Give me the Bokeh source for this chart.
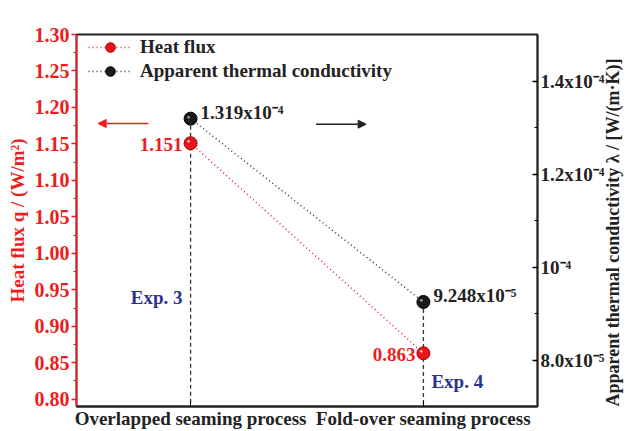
import math
from bokeh.plotting import figure
from bokeh.models import (Range1d, LinearAxis, FixedTicker, CustomJSTickFormatter,
                          ColumnDataSource, Label, Arrow, NormalHead, Legend, LegendItem)
from bokeh.core.properties import value
from bokeh.embed import file_html
from bokeh.resources import INLINE

# ---- data ----
categories = ["Overlapped seaming process", "Fold-over seaming process"]
experiments = ["Exp. 3", "Exp. 4"]
heat_flux = [1.151, 0.863]                 # W/m^2 (left axis)
conductivity = [1.319e-4, 9.248e-5]        # W/(m.K) (right axis)
left_ticks = [0.80, 0.85, 0.90, 0.95, 1.00, 1.05, 1.10, 1.15, 1.20, 1.25, 1.30]
left_minor = [0.825, 0.875, 0.925, 0.975, 1.025, 1.075, 1.125, 1.175, 1.225, 1.275]
right_ticks = [8.0e-5, 1.0e-4, 1.2e-4, 1.4e-4]
right_tick_labels = ["8.0x10⁻⁵", "10⁻⁴", "1.2x10⁻⁴", "1.4x10⁻⁴"]
right_minor = [9.0e-5, 1.1e-4, 1.3e-4]
left_title = "Heat flux q / (W/m²)"
right_title = "Apparent thermal conductivity λ / [W/(m·K)]"

RED = "#f01c1c"
BLUE = "#2b3190"
DARK = "#222222"
FONT = "Liberation Serif"
FS = "19px"

SUP = str.maketrans("-0123456789", "⁻⁰¹²³⁴⁵⁶⁷⁸⁹")

def sci(v):
    e = int(math.floor(math.log10(v)))
    m = v / 10 ** e
    return f"{m:.3f}x10" + str(e).translate(SUP)

xs = list(range(len(categories)))
Y0, Y1 = 0.79, 1.30
K0, K1 = 7.0e-5, 1.5e-4
X0, X1 = -0.49, 1.49

p = figure(width=639, height=431, output_backend="svg", toolbar_location=None,
           x_range=Range1d(X0, X1), y_range=Range1d(Y0, Y1),
           min_border_left=76, min_border_right=102, min_border_top=34, min_border_bottom=24)
p.extra_y_ranges = {"k": Range1d(K0, K1)}
p.grid.visible = False
p.outline_line_color = DARK
p.outline_line_width = 1.8
p.background_fill_color = "white"
p.border_fill_color = "white"

# x axis
xa = p.xaxis[0]
xa.ticker = FixedTicker(ticks=xs)
xa.major_label_overrides = {i: c for i, c in enumerate(categories)}
xa.major_label_text_font = FONT
xa.major_label_text_font_style = "bold"
xa.major_label_text_font_size = FS
xa.major_label_text_color = DARK
xa.major_tick_in = 5
xa.major_tick_out = 0
xa.minor_tick_line_color = None
xa.axis_line_color = DARK
xa.axis_line_width = 1.8
xa.major_label_standoff = 1

# left axis
ya = p.yaxis[0]
ya.ticker = FixedTicker(ticks=left_ticks, minor_ticks=left_minor)
ya.formatter = CustomJSTickFormatter(code="return tick.toFixed(2);")
ya.axis_label = left_title
ya.axis_label_text_font = FONT
ya.axis_label_text_font_style = "bold"
ya.axis_label_text_font_size = "19px"
ya.axis_label_text_color = RED
ya.axis_label_standoff = 4
ya.major_label_text_font = FONT
ya.major_label_text_font_style = "bold"
ya.major_label_text_font_size = "20px"
ya.major_label_text_color = RED
ya.axis_line_color = RED
ya.axis_line_width = 1.8
ya.major_tick_line_color = RED
ya.minor_tick_line_color = RED
ya.major_tick_line_width = 1.5
ya.major_tick_in = 0
ya.major_tick_out = 5
ya.minor_tick_in = 0
ya.minor_tick_out = 3
ya.major_label_standoff = 2

# right axis
ra = LinearAxis(y_range_name="k",
                ticker=FixedTicker(ticks=right_ticks, minor_ticks=right_minor),
                formatter=CustomJSTickFormatter(args=dict(t=right_ticks, lab=right_tick_labels),
                                                code="""
for (let i = 0; i < t.length; i++) { if (Math.abs(tick - t[i]) < 1e-9) return lab[i]; }
return '';"""))
ra.axis_label = right_title
ra.axis_label_text_font = FONT
ra.axis_label_text_font_style = "bold"
ra.axis_label_text_font_size = "18px"
ra.axis_label_text_color = DARK
ra.axis_label_standoff = 6
props = ra.properties()
if "axis_label_orientation" in props:
    ra.axis_label_orientation = math.pi / 2
if "axis_label_align" in props:
    for cand in ("start", "left", "bottom"):
        try:
            ra.axis_label_align = cand
            break
        except ValueError:
            pass
ra.major_label_text_font = FONT
ra.major_label_text_font_style = "bold"
ra.major_label_text_font_size = FS
ra.major_label_text_color = DARK
ra.axis_line_color = DARK
ra.axis_line_width = 1.8
ra.major_tick_line_width = 1.5
ra.major_tick_in = 5
ra.major_tick_out = 0
ra.minor_tick_in = 3
ra.minor_tick_out = 0
ra.major_label_standoff = 3
p.add_layout(ra, "right")

src = ColumnDataSource(dict(
    x=xs, q=heat_flux, k=conductivity,
    qlab=[f"{v:.3f}" for v in heat_flux],
    klab=[sci(v) for v in conductivity],
    kbottom=[K0] * len(xs),
))

# dashed drop lines from the conductivity points to the axis
p.segment(x0="x", y0="k", x1="x", y1="kbottom", source=src, y_range_name="k",
          line_color="#333333", line_dash="4 3", line_width=1.3)

# dotted connecting lines + markers
r_ql = p.line("x", "q", source=src, line_color=RED, line_dash="1 3", line_width=1.5)
r_qm = p.scatter("x", "q", source=src, size=13, fill_color="#e8141c", line_color="#b00000")
r_kl = p.line("x", "k", source=src, y_range_name="k", line_color="#333333", line_dash="1 3", line_width=1.5)
r_km = p.scatter("x", "k", source=src, y_range_name="k", size=13, fill_color="#1a1a1a", line_color="#000000")

# sphere highlights
p.text("x", "q", text=value("●"), source=src, text_color="white", text_alpha=0.75,
       text_font_size="6px", text_align="center", text_baseline="middle", x_offset=-2, y_offset=-2)
p.text("x", "k", text=value("●"), source=src, y_range_name="k", text_color="#cccccc", text_alpha=0.8,
       text_font_size="6px", text_align="center", text_baseline="middle", x_offset=-2, y_offset=-2)

# value labels
p.text("x", "q", text="qlab", source=src, text_color=RED, text_font=value(FONT), text_font_style="bold",
       text_font_size=FS, text_align="right", text_baseline="middle", x_offset=-8, y_offset=1)
p.text("x", "k", text="klab", source=src, y_range_name="k", text_color=DARK, text_font=value(FONT),
       text_font_style="bold", text_font_size=FS, text_align="left", text_baseline="middle",
       x_offset=10, y_offset=-6)

# experiment labels
p.add_layout(Label(x=0, y=0.940, text=experiments[0], x_offset=-8, text_align="right", text_baseline="middle",
                   text_color=BLUE, text_font=FONT, text_font_style="bold", text_font_size=FS))
p.add_layout(Label(x=1, y=0.824, text=experiments[1], x_offset=8, text_align="left", text_baseline="middle",
                   text_color=BLUE, text_font=FONT, text_font_style="bold", text_font_size=FS))

# direction arrows
p.add_layout(Arrow(x_start=-0.181, y_start=1.178, x_end=-0.397, y_end=1.178, line_color=RED, line_width=1.5,
                   end=NormalHead(size=8, fill_color=RED, line_color=RED)))
p.add_layout(Arrow(x_start=0.539, y_start=1.177, x_end=0.754, y_end=1.177, line_color=DARK, line_width=1.5,
                   end=NormalHead(size=8, fill_color=DARK, line_color=DARK)))

legend = Legend(items=[LegendItem(label="Heat flux", renderers=[r_ql, r_qm]),
                       LegendItem(label="Apparent thermal conductivity", renderers=[r_kl, r_km])],
                location=(12, 323))
legend.background_fill_alpha = 0
legend.border_line_color = None
legend.label_text_font = FONT
legend.label_text_font_style = "bold"
legend.label_text_font_size = FS
legend.label_text_color = DARK
legend.glyph_width = 44
legend.glyph_height = 24
legend.spacing = 0
legend.padding = 0
legend.margin = 0
legend.label_standoff = 8
p.add_layout(legend)

open("out.html", "w").write(file_html(p, INLINE))
